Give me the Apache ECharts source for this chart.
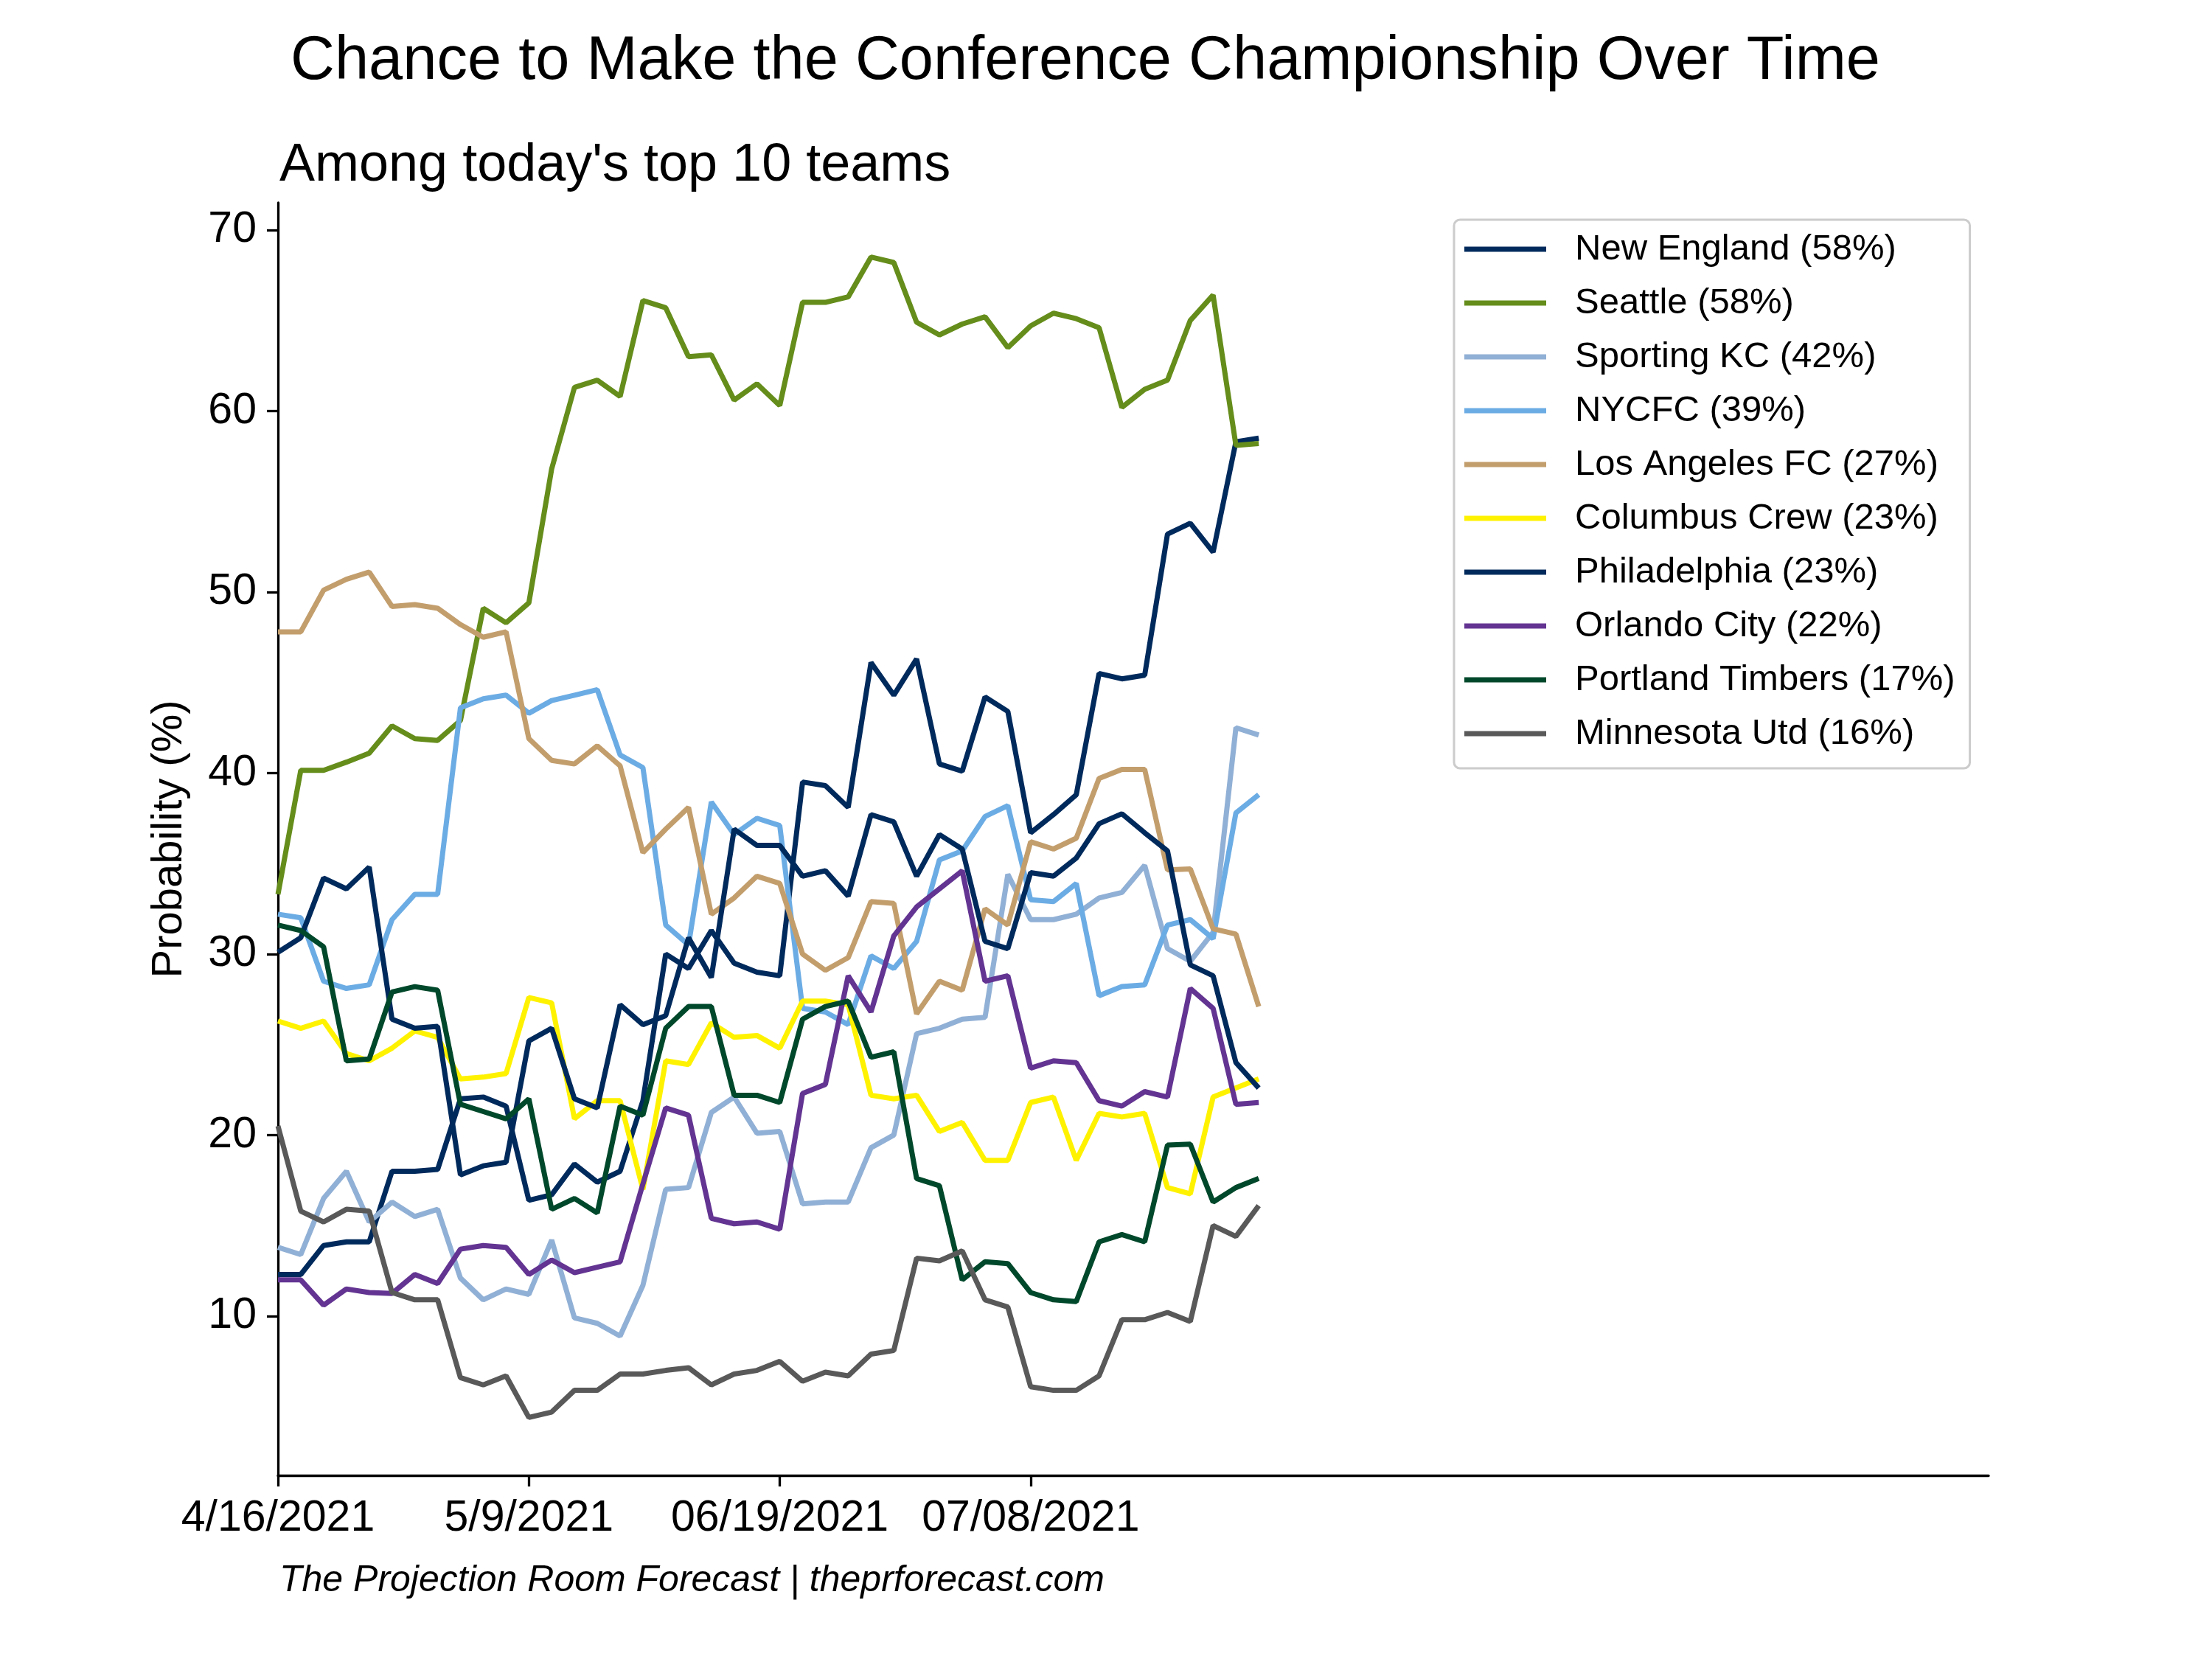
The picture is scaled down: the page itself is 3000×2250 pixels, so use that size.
<!DOCTYPE html>
<html>
<head>
<meta charset="utf-8">
<script src="https://cdn.jsdelivr.net/npm/echarts@6/dist/echarts.min.js"></script>
<style>
  html, body { margin: 0; padding: 0; background: #fff; }
  #chart { width: 3000px; height: 2250px; }
</style>
</head>
<body>
<div id="chart"></div>
<script>
// conference championship odds, one value per forecast run

var tickIdx = [0, 11, 22, 33];
var tickLabels = ['4/16/2021', '5/9/2021', '06/19/2021', '07/08/2021'];
var yTicks = [10, 20, 30, 40, 50, 60, 70];

var newEngland = [12.3, 12.3, 13.9, 14.1, 14.1, 18.0, 18.0, 18.1, 22.0, 22.1, 21.6, 16.4,
    16.7, 18.4, 17.4, 18.0, 21.9, 30.0, 29.2, 31.3, 29.5, 29.0, 28.8,
    39.5, 39.3, 38.1, 46.1, 44.3, 46.3, 40.5, 40.1, 44.2, 43.4, 36.7,
    37.7, 38.8, 45.5, 45.2, 45.4, 53.2, 53.8, 52.2, 58.3, 58.5];
var seattle = [33.3, 40.15, 40.15, 40.6, 41.1, 42.6, 41.9, 41.8, 42.9, 49.1, 48.3, 49.4,
    56.8, 61.3, 61.7, 60.8, 66.1, 65.7, 63.0, 63.1, 60.6, 61.5, 60.3,
    66.0, 66.0, 66.3, 68.5, 68.2, 64.9, 64.2, 64.8, 65.2, 63.5, 64.7,
    65.4, 65.1, 64.6, 60.2, 61.2, 61.7, 65.0, 66.4, 58.1, 58.2];
var sportingKC = [13.8, 13.4, 16.5, 18.0, 15.2, 16.3, 15.5, 15.9, 12.1, 10.9, 11.5, 11.2,
    14.2, 9.9, 9.6, 8.9, 11.7, 17.0, 17.1, 21.25, 22.1, 20.1, 20.2,
    16.2, 16.3, 16.3, 19.3, 20.0, 25.6, 25.9, 26.4, 26.5, 34.4, 31.9,
    31.9, 32.2, 33.1, 33.4, 34.9, 30.3, 29.6, 31.2, 42.5, 42.1];
var nycfc = [32.2, 32.0, 28.5, 28.1, 28.3, 31.9, 33.3, 33.3, 43.6, 44.1, 44.3, 43.3,
    44.0, 44.3, 44.6, 41.0, 40.3, 31.6, 30.5, 38.4, 36.6, 37.5, 37.1,
    27.0, 26.8, 26.1, 29.9, 29.2, 30.7, 35.2, 35.7, 37.6, 38.2, 33.0,
    32.9, 33.9, 27.7, 28.2, 28.3, 31.6, 31.9, 30.85, 37.8, 38.8];
var lafc = [47.8, 47.8, 50.1, 50.7, 51.1, 49.2, 49.3, 49.1, 48.2, 47.5, 47.8, 41.9,
    40.7, 40.5, 41.5, 40.4, 35.6, 36.9, 38.1, 32.2, 33.1, 34.3, 33.9,
    30.0, 29.1, 29.8, 32.9, 32.8, 26.7, 28.5, 28.0, 32.5, 31.6, 36.2,
    35.8, 36.4, 39.7, 40.2, 40.2, 34.65, 34.7, 31.4, 31.1, 27.1];
var columbus = [26.3, 25.9, 26.3, 24.5, 24.1, 24.8, 25.75, 25.4, 23.1, 23.2, 23.4, 27.6,
    27.3, 20.9, 21.9, 21.9, 17.0, 24.1, 23.9, 26.2, 25.4, 25.5, 24.8,
    27.4, 27.4, 27.2, 22.2, 22.0, 22.2, 20.2, 20.7, 18.6, 18.6, 21.8,
    22.1, 18.6, 21.2, 21.0, 21.2, 17.1, 16.75, 22.1, 22.6, 23.1];
var philadelphia = [30.1, 30.9, 34.2, 33.6, 34.8, 26.4, 25.9, 26.0, 17.8, 18.3, 18.5, 25.2,
    25.9, 22.0, 21.5, 27.2, 26.1, 26.6, 30.9, 28.7, 36.9, 36.0, 36.0,
    34.3, 34.6, 33.2, 37.7, 37.3, 34.3, 36.6, 35.8, 30.7, 30.3, 34.5,
    34.3, 35.3, 37.2, 37.75, 36.7, 35.7, 29.4, 28.8, 24.0, 22.6];
var orlando = [12.0, 12.0, 10.6, 11.5, 11.3, 11.25, 12.3, 11.8, 13.7, 13.9, 13.8, 12.3,
    13.1, 12.4, 12.7, 13.0, 17.3, 21.5, 21.1, 15.4, 15.1, 15.2, 14.8,
    22.3, 22.8, 28.8, 26.8, 31.0, 32.6, 33.6, 34.6, 28.5, 28.8, 23.7,
    24.1, 24.0, 21.9, 21.6, 22.4, 22.1, 28.1, 27.0, 21.7, 21.8];
var portland = [31.6, 31.3, 30.4, 24.1, 24.2, 27.9, 28.2, 28.0, 21.7, 21.3, 20.9, 22.0,
    15.9, 16.5, 15.7, 21.6, 21.1, 25.9, 27.1, 27.1, 22.2, 22.2, 21.8,
    26.4, 27.1, 27.4, 24.3, 24.6, 17.6, 17.2, 12.0, 13.0, 12.9, 11.3,
    10.9, 10.8, 14.1, 14.5, 14.1, 19.45, 19.5, 16.3, 17.1, 17.6];
var minnesota = [20.5, 15.8, 15.2, 15.9, 15.8, 11.3, 10.9, 10.9, 6.6, 6.2, 6.7, 4.4,
    4.7, 5.9, 5.9, 6.8, 6.8, 7.0, 7.15, 6.2, 6.8, 7.0, 7.5,
    6.4, 6.9, 6.7, 7.9, 8.1, 13.2, 13.05, 13.6, 10.9, 10.5, 6.1,
    5.9, 5.9, 6.7, 9.8, 9.8, 10.2, 9.7, 15.0, 14.4, 16.1];

var teams = [
    { name: 'New England (58%)', color: '#002A5C', data: newEngland },
    { name: 'Seattle (58%)', color: '#658D1B', data: seattle },
    { name: 'Sporting KC (42%)', color: '#91B0D5', data: sportingKC },
    { name: 'NYCFC (39%)', color: '#6CACE4', data: nycfc },
    { name: 'Los Angeles FC (27%)', color: '#C39E6D', data: lafc },
    { name: 'Columbus Crew (23%)', color: '#FFF200', data: columbus },
    { name: 'Philadelphia (23%)', color: '#002A5C', data: philadelphia },
    { name: 'Orlando City (22%)', color: '#633492', data: orlando },
    { name: 'Portland Timbers (17%)', color: '#00482B', data: portland },
    { name: 'Minnesota Utd (16%)', color: '#585958', data: minnesota }
];

// x axis runs past the data, out to slot 75
var categories = [];
for (var i = 0; i <= 75; i++) {
    categories.push(String(i));
}

var font = 'Liberation Sans, Arial, sans-serif';

var series = [];
for (var k = 0; k < teams.length; k++) {
    series.push({
        name: teams[k].name,
        type: 'line',
        data: teams[k].data,
        showSymbol: false,
        symbol: 'none',
        color: teams[k].color,
        lineStyle: { width: 7, color: teams[k].color },
        emphasis: { disabled: true }
    });
}

var myChart = echarts.init(document.getElementById('chart'));

var option = {
    animation: false,
    backgroundColor: '#fff',
    title: [
        {
            text: 'Chance to Make the Conference Championship Over Time',
            left: 1467, top: 38, textAlign: 'center',
            textStyle: { fontFamily: font, fontSize: 83, fontWeight: 'normal', color: '#000' }
        },
        {
            text: "Among today's top 10 teams",
            left: 374, top: 184,
            textStyle: { fontFamily: font, fontSize: 72, fontWeight: 'normal', color: '#000' }
        },
        {
            text: 'The Projection Room Forecast | theprforecast.com',
            left: 374, top: 2114,
            textStyle: { fontFamily: font, fontSize: 50, fontStyle: 'italic', fontWeight: 'normal', color: '#000' }
        }
    ],
    legend: {
        left: 1972, top: 298,
        orient: 'vertical',
        icon: 'rect',
        itemWidth: 111,
        itemHeight: 7,
        itemGap: 23,
        padding: [15, 20, 22, 14],
        backgroundColor: '#fff',
        borderColor: '#cccccc',
        borderWidth: 3,
        borderRadius: 8,
        textStyle: { fontFamily: font, fontSize: 49, lineHeight: 50, color: '#000', padding: [0, 0, 0, 34] },
        data: teams.map(function (t) { return t.name; })
    },
    grid: { left: 377, right: 303, top: 275, bottom: 249, containLabel: false },
    xAxis: {
        type: 'category',
        data: categories,
        boundaryGap: false,
        axisLine: { lineStyle: { color: '#000', width: 3.3 } },
        axisTick: {
            length: 15,
            lineStyle: { color: '#000', width: 3.3 },
            interval: function (idx) { return tickIdx.indexOf(idx) >= 0; }
        },
        axisLabel: {
            margin: 29,
            fontFamily: font, fontSize: 59, color: '#000',
            interval: function (idx) { return tickIdx.indexOf(idx) >= 0; },
            formatter: function (val, idx) {
                var p = tickIdx.indexOf(idx);
                return p >= 0 ? tickLabels[p] : '';
            }
        },
        splitLine: { show: false }
    },
    yAxis: {
        type: 'value',
        min: 1.2,
        max: 71.5,
        name: 'Probability (%)',
        nameLocation: 'middle',
        nameGap: 118,
        nameTextStyle: { fontFamily: font, fontSize: 58, color: '#000' },
        axisLine: { show: true, lineStyle: { color: '#000', width: 3.3 } },
        axisTick: { show: true, length: 15, lineStyle: { color: '#000', width: 3.3 }, customValues: yTicks },
        axisLabel: { margin: 29, fontFamily: font, fontSize: 59, color: '#000', customValues: yTicks },
        splitLine: { show: false }
    },
    series: series
};

myChart.setOption(option);
</script>
</body>
</html>
